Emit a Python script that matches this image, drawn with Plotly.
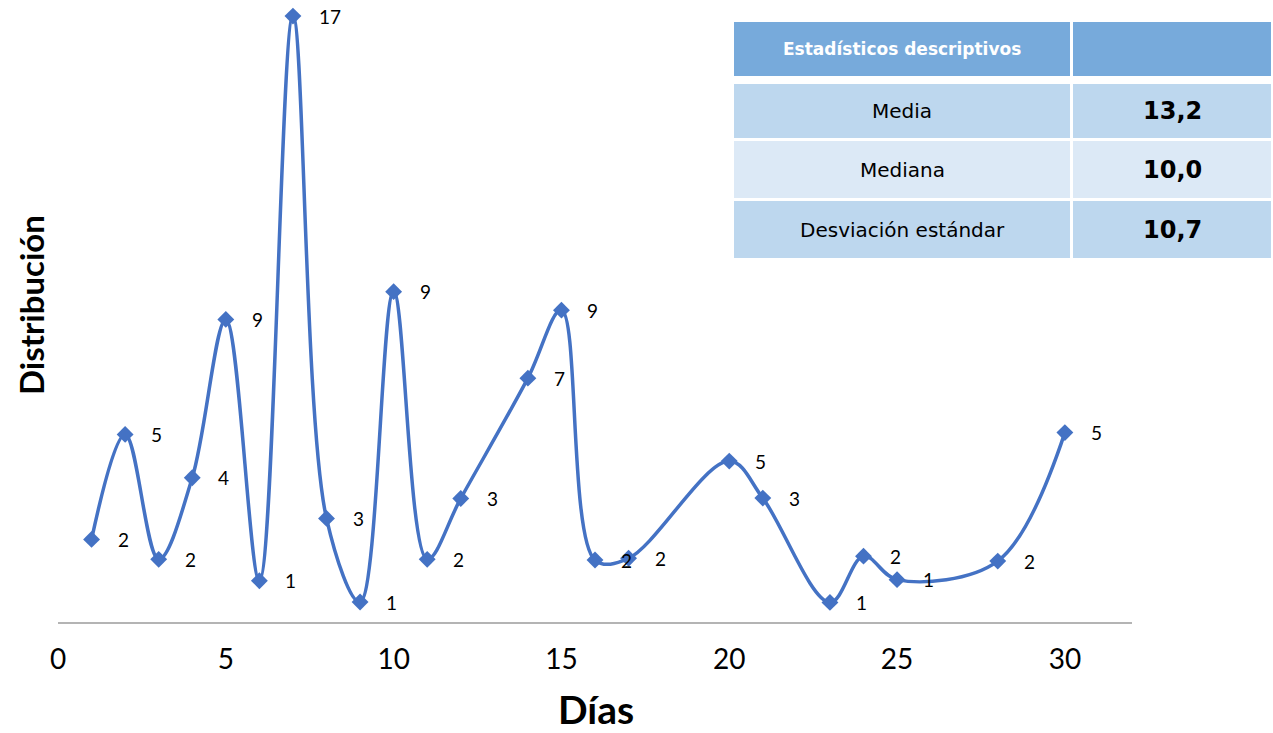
import plotly.graph_objects as go

# ---- data ----
dias = [1, 2, 3, 4, 5, 6, 7, 8, 9, 10, 11, 12, 14, 15, 16, 17, 20, 21, 23, 24, 25, 28, 30]
valores = [2.32, 5.27, 1.76, 4.05, 8.50, 1.16, 17.02, 2.91, 0.56, 9.28, 1.76, 3.47,
           6.85, 8.76, 1.74, 1.79, 4.52, 3.48, 0.55, 1.85, 1.19, 1.71, 5.32]
etiquetas = ["2", "5", "2", "4", "9", "1", "17", "3", "1", "9", "2", "3",
             "7", "9", "2", "2", "5", "3", "1", "2", "1", "2", "5"]
x_ticks = [0, 5, 10, 15, 20, 25, 30]

tabla_titulo = "Estadísticos descriptivos"
stat_nombres = ["Media", "Mediana", "Desviación estándar"]
stat_valores = ["13,2", "10,0", "10,7"]

# ---- layout geometry (pixels) ----
W, H = 1273, 733
ML, MR, MT, MB = 58, 141, 0, 111
PW = W - ML - MR
PH = H - MT - MB

def px(xp):
    return (xp - ML) / PW

def py(yp):
    return (H - MB - yp) / PH

BLUE = "#4472C4"
FONT = "Lato"
TFONT = "DejaVu Sans"

fig = go.Figure()
fig.add_trace(go.Scatter(
    x=dias, y=valores, mode="lines+markers",
    line=dict(color=BLUE, width=3.5, shape="spline", smoothing=1.0),
    marker=dict(symbol="diamond", size=13, color=BLUE),
    hoverinfo="skip", showlegend=False,
))

annotations = []
for xv, yv, t in zip(dias, valores, etiquetas):
    annotations.append(dict(
        x=xv, y=yv, xref="x", yref="y", text=t, showarrow=False,
        xanchor="left", yanchor="middle", xshift=24,
        font=dict(family=FONT, size=19, color="#000000"),
    ))

# axis titles
annotations.append(dict(
    x=px(596), y=py(709), xref="paper", yref="paper", text="Días",
    showarrow=False, xanchor="center", yanchor="middle",
    font=dict(family=FONT, size=39, color="#000000", weight="bold"),
))
annotations.append(dict(
    x=px(31), y=py(305), xref="paper", yref="paper", text="Distribución",
    showarrow=False, xanchor="center", yanchor="middle", textangle=-90,
    font=dict(family=FONT, size=33, color="#000000", weight="bold"),
))

# table
shapes = []
col1 = (734, 1070)
col2 = (1073, 1271)
hdr = (22, 76)
rows = [(84, 138), (141, 198), (201, 258)]
row_colors = ["#bdd7ee", "#dce9f6", "#bdd7ee"]
HDR_COLOR = "#77aadb"

for c in (col1, col2):
    shapes.append(dict(type="rect", xref="paper", yref="paper",
                       x0=px(c[0]), x1=px(c[1]), y0=py(hdr[1]), y1=py(hdr[0]),
                       fillcolor=HDR_COLOR, line=dict(width=0), layer="above"))
for (r0, r1), col in zip(rows, row_colors):
    for c in (col1, col2):
        shapes.append(dict(type="rect", xref="paper", yref="paper",
                           x0=px(c[0]), x1=px(c[1]), y0=py(r1), y1=py(r0),
                           fillcolor=col, line=dict(width=0), layer="above"))

annotations.append(dict(
    x=px((col1[0] + col1[1]) / 2), y=py((hdr[0] + hdr[1]) / 2),
    xref="paper", yref="paper", text=tabla_titulo, showarrow=False,
    xanchor="center", yanchor="middle",
    font=dict(family=TFONT, size=17, color="#ffffff", weight="bold"),
))
for (r0, r1), name, val in zip(rows, stat_nombres, stat_valores):
    annotations.append(dict(
        x=px((col1[0] + col1[1]) / 2), y=py((r0 + r1) / 2),
        xref="paper", yref="paper", text=name, showarrow=False,
        xanchor="center", yanchor="middle",
        font=dict(family=TFONT, size=20, color="#000000"),
    ))
    annotations.append(dict(
        x=px((col2[0] + col2[1]) / 2), y=py((r0 + r1) / 2),
        xref="paper", yref="paper", text=val, showarrow=False,
        xanchor="center", yanchor="middle",
        font=dict(family=TFONT, size=24, color="#000000", weight="bold"),
    ))

fig.update_layout(
    width=W, height=H,
    margin=dict(l=ML, r=MR, t=MT, b=MB, pad=0),
    paper_bgcolor="#ffffff", plot_bgcolor="#ffffff",
    showlegend=False,
    xaxis=dict(range=[0, 32], tickvals=x_ticks, ticktext=[str(v) for v in x_ticks],
               showgrid=False, zeroline=False, showline=True, linecolor="#b4b4b4",
               linewidth=2, ticks="outside", ticklen=11, tickcolor="rgba(0,0,0,0)",
               tickfont=dict(family=FONT, size=28, color="#000000"),
               fixedrange=True),
    yaxis=dict(range=[0, PH / 35.6], visible=False, showgrid=False, zeroline=False,
               fixedrange=True),
    annotations=annotations,
    shapes=shapes,
)

fig.write_html(
    "out.html",
    config={"displayModeBar": False},
    post_script="document.body.style.margin='0';document.body.style.overflow='hidden';",
)
